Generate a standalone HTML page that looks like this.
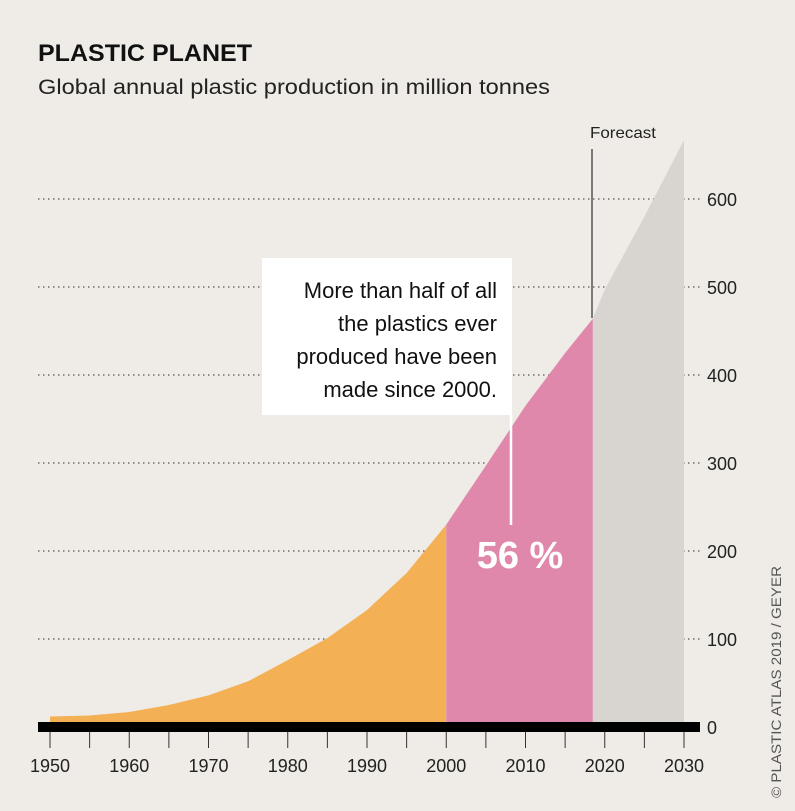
<!DOCTYPE html>
<html><head><meta charset="utf-8"><style>
body{margin:0;background:#efece7;}
svg{display:block;font-family:"Liberation Sans",sans-serif;}
</style></head><body>
<svg id="chart" width="795" height="811" viewBox="0 0 795 811">
<rect width="795" height="811" fill="#efece7"/>
<text x="38" y="61" font-size="24" font-weight="bold" fill="#111" textLength="214" lengthAdjust="spacingAndGlyphs">PLASTIC PLANET</text>
<text x="38" y="94" font-size="21" fill="#222" textLength="512" lengthAdjust="spacingAndGlyphs">Global annual plastic production in million tonnes</text>
<g id="grid"></g>
<g id="areas"></g>
<g id="axis"></g>
<line x1="592" y1="149" x2="592" y2="318" stroke="#555" stroke-width="1.5"/>
<text x="590" y="138" font-size="16" fill="#222" textLength="66" lengthAdjust="spacingAndGlyphs">Forecast</text>
<rect x="262" y="258" width="250" height="157" fill="#fff"/>
<line x1="511" y1="415" x2="511" y2="525" stroke="#fff" stroke-width="2.5"/>
<g font-size="22" fill="#111" text-anchor="end">
<text x="497" y="298">More than half of all</text>
<text x="497" y="331">the plastics ever</text>
<text x="497" y="364">produced have been</text>
<text x="497" y="397">made since 2000.</text>
</g>
<text x="520" y="568" font-size="38" font-weight="bold" fill="#fff" text-anchor="middle">56 %</text>
<text transform="translate(781,798) rotate(-90)" font-size="14" fill="#555" textLength="232" lengthAdjust="spacingAndGlyphs">© PLASTIC ATLAS 2019 / GEYER</text>
</svg>
<script>
const years=[1950,1955,1960,1965,1970,1975,1980,1985,1990,1995,2000,2005,2010,2015,2018.5,2020,2025,2030];
const production=[12,13,17,25,36,52,76,101,133,175,230,297,365,425,464,497,580,667];
const yTicks=[0,100,200,300,400,500,600];
const xTicks=[1950,1960,1970,1980,1990,2000,2010,2020,2030];
const X=y=>50+(y-1950)*(684-50)/80;
const Y=v=>727-v*0.88;
const NS="http://www.w3.org/2000/svg";
function mk(tag,attrs,parent){const e=document.createElementNS(NS,tag);for(const k in attrs)e.setAttribute(k,attrs[k]);parent.appendChild(e);return e;}
const grid=document.getElementById('grid'),areas=document.getElementById('areas'),axis=document.getElementById('axis');
yTicks.forEach(v=>{
 if(v>0){const l=mk('line',{x1:38,x2:700,y1:Y(v),y2:Y(v),stroke:'#555','stroke-width':1.2,'stroke-dasharray':'1.5 3.5'},grid);
 
 }
 const t=mk('text',{x:707,y:Y(v)+7,'font-size':18,fill:'#222'},grid);t.textContent=v;
 
 
});
function seg(a,b,color,name){
 let pts=[[X(a),Y(0)]];
 years.forEach((y,i)=>{if(y>=a&&y<=b)pts.push([X(y),Y(production[i])]);});
 pts.push([X(b),Y(0)]);
 const p=mk('polygon',{points:pts.map(p=>p.join(',')).join(' '),fill:color},areas);
 
 
}
seg(1950,2000,'#f4b054','area-1950-2000');
seg(2000,2018.5,'#e088ab','area-2000-2018');
seg(2018.5,2030,'#d8d5d0','area-forecast');
const bar=mk('rect',{x:38,y:722,width:662,height:10,fill:'#000'},axis);


for(let y=1950;y<=2030;y+=5){
 const l=mk('line',{x1:X(y),x2:X(y),y1:732,y2:748,stroke:'#333','stroke-width':1},axis);
 
 
}
xTicks.forEach(y=>{
 const t=mk('text',{x:X(y),y:772,'font-size':18,fill:'#222','text-anchor':'middle'},axis);t.textContent=y;
 
 
});
</script>
</body></html>
